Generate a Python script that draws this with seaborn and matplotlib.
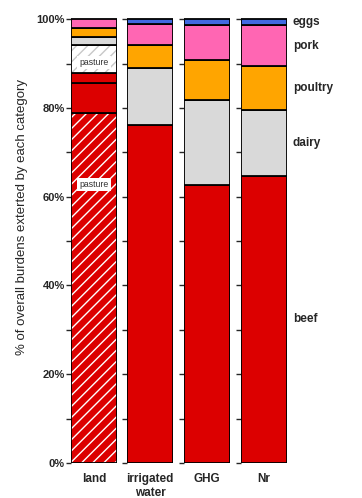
import matplotlib
matplotlib.use("Agg")
import matplotlib.pyplot as plt
import seaborn as sns

sns.set_style("ticks")
plt.rcParams["font.family"] = ["Liberation Sans", "DejaVu Sans"]
plt.rcParams["hatch.linewidth"] = 1.0

categories = ["land", "irrigated\nwater", "GHG", "Nr"]

# land bar, split into pasture / non-pasture parts (bottom to top)
land_parts = ["beef pasture", "beef crop", "beef other", "dairy pasture", "dairy crop", "poultry", "pork"]
land_values = [78.8, 6.8, 2.3, 6.2, 1.9, 2.1, 1.9]
land_colors = ["#dc0000", "#dc0000", "#dc0000", "white", "#d9d9d9", "#ffa500", "#ff66b3"]
land_hatch = ["///", None, None, "///", None, None, None]
land_hatch_color = ["white", None, None, "#c8c8c8", None, None, None]
pasture_label_y = [62.8, 90.3]

# other burdens (irrigated water, GHG, Nr)
animals = ["beef", "dairy", "poultry", "pork", "eggs"]
beef = [76.2, 62.6, 64.6]
dairy = [12.7, 19.2, 14.9]
poultry = [5.4, 9.1, 9.9]
pork = [4.7, 7.7, 9.2]
eggs = [1.0, 1.4, 1.4]
animal_colors = ["#dc0000", "#d9d9d9", "#ffa500", "#ff66b3", "#4169e1"]
label_y = [32.5, 72.2, 84.4, 93.9, 99.3]

fig = plt.figure(figsize=(3.62, 4.98), dpi=100)
lefts = [71, 127, 184, 241]
axes = [fig.add_axes([l / 362, 35 / 498, 46 / 362, 446 / 498]) for l in lefts]


def bar(ax, cat, value, bottom, color, hatch=None, hatch_color=None):
    if hatch:
        sns.barplot(x=[cat], y=[value], bottom=bottom, color=color, width=1,
                    hatch=hatch, edgecolor=hatch_color, linewidth=0, saturation=1, ax=ax)
        sns.barplot(x=[cat], y=[value], bottom=bottom, fill=False, width=1,
                    edgecolor="black", linewidth=1.3, ax=ax)
    else:
        sns.barplot(x=[cat], y=[value], bottom=bottom, color=color, width=1,
                    edgecolor="black", linewidth=1.3, saturation=1, ax=ax)


bottom = 0
for v, c, h, hc in zip(land_values, land_colors, land_hatch, land_hatch_color):
    bar(axes[0], categories[0], v, bottom, c, h, hc)
    bottom += v

for y in pasture_label_y:
    axes[0].text(0, y, "pasture", ha="center", va="center", fontsize=6.3,
                 color="#333333", bbox=dict(facecolor="white", edgecolor="none", pad=1.5))

series = [beef, dairy, poultry, pork, eggs]
for i in range(3):
    ax = axes[i + 1]
    bottom = 0
    for vals, c in zip(series, animal_colors):
        bar(ax, categories[i + 1], vals[i], bottom, c)
        bottom += vals[i]

for i, ax in enumerate(axes):
    ax.set_xlim(-0.5, 0.5)
    ax.set_ylim(0, 100.5)
    ax.set_yticks(range(0, 101, 20))
    ax.set_yticks(range(10, 100, 20), minor=True)
    ax.tick_params(axis="y", which="both", length=3.5, width=1, direction="out", pad=1)
    ax.tick_params(axis="x", length=0, pad=7)
    ax.set_xlabel("")
    ax.set_ylabel("")
    for s in ["top", "right", "bottom", "left"]:
        ax.spines[s].set_visible(False)
    ax.set_xticks([0])
    ax.set_xticklabels([categories[i]], fontsize=8.5, fontweight="bold", linespacing=1.2)
    if i == 0:
        ax.set_yticklabels([f"{t}%" for t in range(0, 101, 20)], fontsize=8, fontweight="bold")
    else:
        ax.set_yticklabels([])

for name, y in zip(animals, label_y):
    axes[3].text(1.13, y, name, transform=axes[3].get_yaxis_transform(), ha="left",
                 va="center", fontsize=8.5, fontweight="bold")

fig.text(22 / 362, 1 - 217 / 498, "% of overall burdens exterted by each category",
         rotation=90, ha="center", va="center", fontsize=9.5)

fig.savefig("out.png", dpi=100)
